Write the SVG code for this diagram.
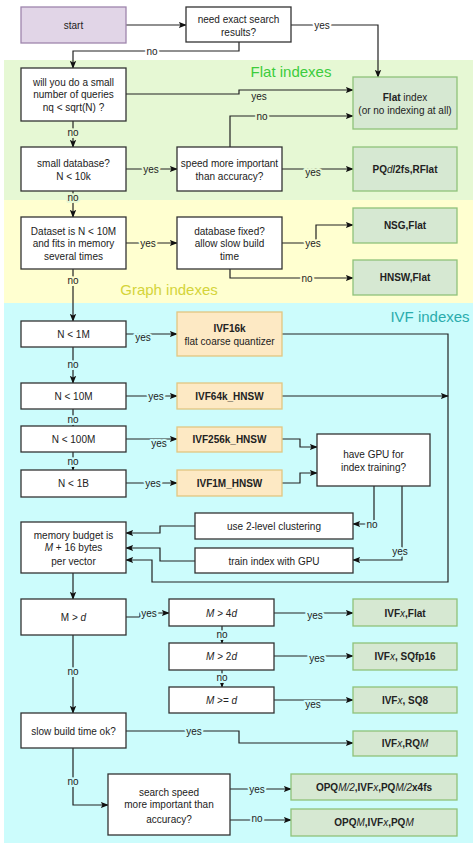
<svg xmlns="http://www.w3.org/2000/svg" width="473" height="843" viewBox="0 0 473 843">
<style>
text{font-family:"Liberation Sans",Arial,sans-serif;font-size:10px;fill:#222;text-anchor:middle;dominant-baseline:central}
.q{fill:#fff;stroke:#333;stroke-width:1.3}
.g{fill:#d6e8d2;stroke:#8fc27a;stroke-width:1.3}
.o{fill:#fde9c4;stroke:#e2c682;stroke-width:1.3}
.p{fill:#e1d5e7;stroke:#9e86ad;stroke-width:1.3}
.b{font-weight:bold}
.i{font-style:italic;font-weight:normal}
.c path{fill:none;stroke:#222;stroke-width:1.2}
.c path.a{marker-end:url(#ah)}
.l text{paint-order:stroke;stroke-width:4;stroke-linejoin:round}
.lw text{stroke:#fff}
.lg text{stroke:#e6f8d4}
.ly text{stroke:#ffffd0}
.lc text{stroke:#ccfcfc}
.region{font-size:15px}
</style>
<defs>
<marker id="ah" viewBox="0 0 10 10" refX="9" refY="5" markerWidth="8" markerHeight="8" markerUnits="userSpaceOnUse" orient="auto">
<path d="M0,1 L10,5 L0,9 L2,5 Z" fill="#111"/>
</marker>
</defs>
<rect x="0" y="0" width="473" height="843" fill="#fff"/>
<g id="regions">
<rect x="4" y="60" width="469" height="140" fill="#e6f8d4"/>
<rect x="4" y="200" width="469" height="103" fill="#ffffd0"/>
<rect x="4" y="303" width="469" height="540" fill="#ccfcfc"/>
<text class="region" x="291" y="71" style="fill:#3ccc3c">Flat indexes</text>
<text class="region" x="169" y="289" style="fill:#d4d43a">Graph indexes</text>
<text class="region" x="430" y="316" style="fill:#2aacac">IVF indexes</text>
</g>
<g id="connectors" class="c">
<path class="a" d="M126,25 H186"/>
<path class="a" d="M291,25 H378 V77"/>
<path class="a" d="M239,42 V51 H73 V68"/>
<path class="a" d="M126,94 H239 V90 H353"/>
<path class="a" d="M73,121 V147"/>
<path class="a" d="M126,169 H177"/>
<path class="a" d="M230,147 V116 H353"/>
<path class="a" d="M282,169 H353"/>
<path class="a" d="M73,191 V217"/>
<path class="a" d="M126,243 H177"/>
<path class="a" d="M282,243 H316 V225 H353"/>
<path class="a" d="M230,269 V278 H353"/>
<path class="a" d="M73,269 V321"/>
<path class="a" d="M126,334 H177"/>
<path class="a" d="M282,334 H448 V582 H152 V560 H126"/>
<path class="a" d="M73,347 V383"/>
<path class="a" d="M126,396 H177"/>
<path class="a" d="M282,396 H448"/>
<path class="a" d="M73,409 V426"/>
<path class="a" d="M126,439 H177"/>
<path class="a" d="M282,439 H300 V447 H317"/>
<path class="a" d="M73,452 V470"/>
<path class="a" d="M126,483 H177"/>
<path class="a" d="M282,483 H300 V473 H317"/>
<path class="a" d="M374,486 V524 H353"/>
<path class="a" d="M402,486 V560 H353"/>
<path class="a" d="M195,526 H160 V533 H126"/>
<path class="a" d="M195,561 H160 V548 H126"/>
<path class="a" d="M73,573 V599"/>
<path class="a" d="M126,617 H140 V613 H169"/>
<path class="a" d="M274,613 H353"/>
<path class="a" d="M222,626 V643"/>
<path class="a" d="M274,656 H353"/>
<path class="a" d="M222,670 V687"/>
<path class="a" d="M274,700 H353"/>
<path class="a" d="M73,635 V713"/>
<path class="a" d="M126,731 H239 V743 H353"/>
<path class="a" d="M73,748 V805 H108"/>
<path class="a" d="M230,789 H291"/>
<path class="a" d="M230,820 H291"/>
</g>
<g id="labels" class="l">
<g class="lw"><text x="322" y="25">yes</text><text x="152" y="51">no</text></g>
<g class="lg">
<text x="259" y="96">yes</text><text x="73" y="132">no</text><text x="151" y="169">yes</text>
<text x="262" y="116">no</text><text x="313" y="172">yes</text><text x="73" y="197">no</text>
</g>
<g class="ly">
<text x="148" y="243">yes</text><text x="313" y="243">yes</text><text x="307" y="278">no</text><text x="73" y="280">no</text>
</g>
<g class="lc">
<text x="143" y="337">yes</text><text x="73" y="364">no</text><text x="156" y="396">yes</text>
<text x="73" y="419">no</text><text x="159" y="443">yes</text><text x="73" y="461">no</text>
<text x="153" y="483">yes</text><text x="372" y="524">no</text><text x="400" y="551">yes</text>
<text x="149" y="613">yes</text><text x="315" y="615">yes</text><text x="222" y="634">no</text>
<text x="317" y="658">yes</text><text x="222" y="677">no</text><text x="313" y="704">yes</text>
<text x="73" y="671">no</text><text x="194" y="731">yes</text><text x="73" y="781">no</text>
<text x="257" y="789">yes</text><text x="257" y="818">no</text>
</g>
</g>
<g id="start"><rect class="p" x="21" y="7" width="105" height="36"/><text x="73.5" y="25">start</text></g>
<g id="exact"><rect class="q" x="186" y="7" width="105" height="35"/><text x="238.5" y="19">need exact search</text><text x="238.5" y="32">results?</text></g>
<g id="fewqueries"><rect class="q" x="21" y="68" width="105" height="53"/><text x="73.5" y="82">will you do a small</text><text x="73.5" y="94">number of queries</text><text x="73.5" y="107">nq &lt; sqrt(N) ?</text></g>
<g id="flatindex"><rect class="g" x="353" y="77" width="104" height="52"/><text x="405" y="97"><tspan class="b">Flat</tspan> index</text><text x="405" y="110">(or no indexing at all)</text></g>
<g id="smalldb"><rect class="q" x="21" y="147" width="105" height="44"/><text x="73.5" y="163">small database?</text><text x="73.5" y="176">N &lt; 10k</text></g>
<g id="speed"><rect class="q" x="177" y="147" width="105" height="44"/><text x="229.5" y="163">speed more important</text><text x="229.5" y="176">than accuracy?</text></g>
<g id="pqfs"><rect class="g" x="353" y="147" width="104" height="44"/><text x="405" y="169" class="b">PQ<tspan class="i">d</tspan>/2fs,RFlat</text></g>
<g id="dataset"><rect class="q" x="21" y="217" width="105" height="52"/><text x="73.5" y="231">Dataset is N &lt; 10M</text><text x="73.5" y="243">and fits in memory</text><text x="73.5" y="256">several times</text></g>
<g id="dbfixed"><rect class="q" x="177" y="217" width="105" height="52"/><text x="229.5" y="231">database fixed?</text><text x="229.5" y="243">allow slow build</text><text x="229.5" y="256">time</text></g>
<g id="nsg"><rect class="g" x="353" y="208" width="104" height="35"/><text x="405" y="225" class="b">NSG,Flat</text></g>
<g id="hnsw"><rect class="g" x="353" y="260" width="104" height="35"/><text x="405" y="277" class="b">HNSW,Flat</text></g>
<g id="n1m"><rect class="q" x="21" y="321" width="105" height="26"/><text x="73.5" y="334">N &lt; 1M</text></g>
<g id="ivf16k"><rect class="o" x="177" y="312" width="105" height="44"/><text x="229.5" y="328" class="b">IVF16k</text><text x="229.5" y="341">flat coarse quantizer</text></g>
<g id="n10m"><rect class="q" x="21" y="383" width="105" height="26"/><text x="73.5" y="396">N &lt; 10M</text></g>
<g id="ivf64k"><rect class="o" x="177" y="383" width="105" height="26"/><text x="229.5" y="396" class="b">IVF64k_HNSW</text></g>
<g id="n100m"><rect class="q" x="21" y="426" width="105" height="26"/><text x="73.5" y="439">N &lt; 100M</text></g>
<g id="ivf256k"><rect class="o" x="177" y="427" width="105" height="25"/><text x="229.5" y="439" class="b">IVF256k_HNSW</text></g>
<g id="n1b"><rect class="q" x="21" y="470" width="105" height="27"/><text x="73.5" y="483">N &lt; 1B</text></g>
<g id="ivf1m"><rect class="o" x="177" y="470" width="105" height="26"/><text x="229.5" y="483" class="b">IVF1M_HNSW</text></g>
<g id="gpu"><rect class="q" x="317" y="434" width="113" height="52"/><text x="373.5" y="454">have GPU for</text><text x="373.5" y="467">index training?</text></g>
<g id="twolevel"><rect class="q" x="195" y="513" width="158" height="26"/><text x="274" y="526">use 2-level clustering</text></g>
<g id="traingpu"><rect class="q" x="195" y="548" width="158" height="25"/><text x="274" y="561">train index with GPU</text></g>
<g id="memory"><rect class="q" x="21" y="522" width="105" height="51"/><text x="73.5" y="535">memory budget is</text><text x="73.5" y="547"><tspan class="i">M</tspan> + 16 bytes</text><text x="73.5" y="561">per vector</text></g>
<g id="mgd"><rect class="q" x="21" y="599" width="105" height="36"/><text x="73.5" y="617">M &gt; <tspan class="i">d</tspan></text></g>
<g id="m4d"><rect class="q" x="169" y="599" width="105" height="27"/><text x="221.5" y="613"><tspan class="i">M</tspan> &gt; 4<tspan class="i">d</tspan></text></g>
<g id="ivfflat"><rect class="g" x="353" y="599" width="104" height="27"/><text x="405" y="613" class="b">IVF<tspan class="i">x</tspan>,Flat</text></g>
<g id="m2d"><rect class="q" x="169" y="643" width="105" height="27"/><text x="221.5" y="656"><tspan class="i">M</tspan> &gt; 2<tspan class="i">d</tspan></text></g>
<g id="sqfp16"><rect class="g" x="353" y="643" width="104" height="27"/><text x="405" y="656" class="b">IVF<tspan class="i">x</tspan>, SQfp16</text></g>
<g id="mged"><rect class="q" x="169" y="687" width="105" height="26"/><text x="221.5" y="700"><tspan class="i">M</tspan> &gt;= <tspan class="i">d</tspan></text></g>
<g id="sq8"><rect class="g" x="353" y="687" width="104" height="26"/><text x="405" y="700" class="b">IVF<tspan class="i">x</tspan>, SQ8</text></g>
<g id="slowbuild"><rect class="q" x="21" y="713" width="105" height="35"/><text x="73.5" y="731">slow build time ok?</text></g>
<g id="rqm"><rect class="g" x="353" y="731" width="104" height="25"/><text x="405" y="743" class="b">IVF<tspan class="i">x</tspan>,RQ<tspan class="i">M</tspan></text></g>
<g id="searchspeed"><rect class="q" x="108" y="774" width="122" height="61"/><text x="169" y="792">search speed</text><text x="169" y="804">more important than</text><text x="169" y="819">accuracy?</text></g>
<g id="opqm2"><rect class="g" x="291" y="774" width="166" height="26"/><text x="374" y="787" class="b">OPQ<tspan class="i">M/2</tspan>,IVF<tspan class="i">x</tspan>,PQ<tspan class="i">M/2</tspan>x4fs</text></g>
<g id="opqm"><rect class="g" x="291" y="809" width="166" height="27"/><text x="374" y="822" class="b">OPQ<tspan class="i">M</tspan>,IVF<tspan class="i">x</tspan>,PQ<tspan class="i">M</tspan></text></g>
</svg>
